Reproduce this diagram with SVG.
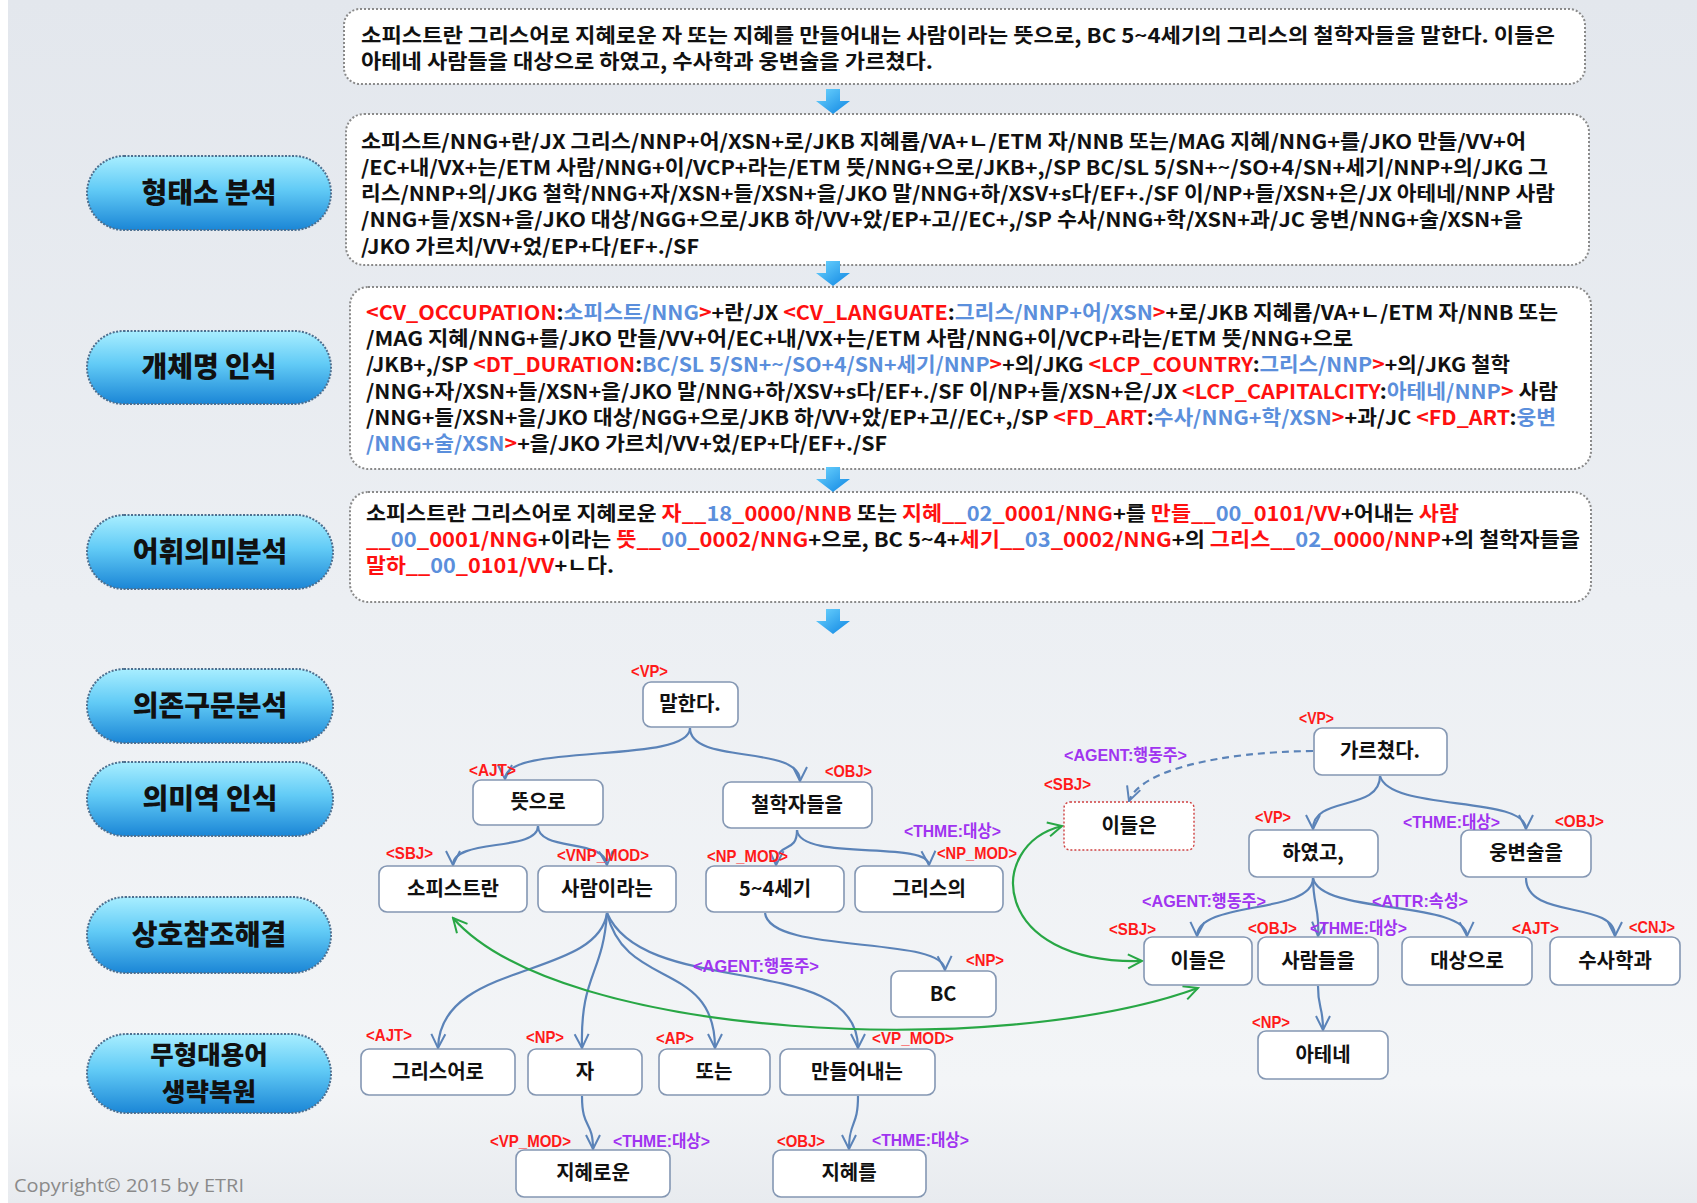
<svg xmlns="http://www.w3.org/2000/svg" width="1697" height="1203" viewBox="0 0 1697 1203">
<defs>
<linearGradient id="bg" x1="0" y1="0" x2="0" y2="1">
<stop offset="0" stop-color="#e3e7ed"/>
<stop offset="0.5" stop-color="#eceff3"/>
<stop offset="0.9" stop-color="#f3f5f7"/>
<stop offset="1" stop-color="#e8ebef"/>
</linearGradient>
<linearGradient id="pg" x1="0" y1="0" x2="0" y2="1">
<stop offset="0" stop-color="#a8eeff"/>
<stop offset="0.45" stop-color="#62cbf6"/>
<stop offset="1" stop-color="#1b86d6"/>
</linearGradient>
<linearGradient id="ag" x1="0" y1="0" x2="1" y2="1">
<stop offset="0" stop-color="#6fd6ff"/>
<stop offset="1" stop-color="#0d84e2"/>
</linearGradient>
<marker id="ab" viewBox="-16 -9 18 18" refX="0" refY="0" markerWidth="18" markerHeight="18" markerUnits="userSpaceOnUse" orient="auto">
<path d="M-14,-7 L0,0 L-14,7" fill="none" stroke="#5b83b8" stroke-width="2"/>
</marker>
<marker id="ag2" viewBox="-16 -9 18 18" refX="0" refY="0" markerWidth="18" markerHeight="18" markerUnits="userSpaceOnUse" orient="auto-start-reverse">
<path d="M-14,-7 L0,0 L-14,7" fill="none" stroke="#28a745" stroke-width="2"/>
</marker>
<path id="darrow" d="M-7,0 H7 V12 H17 L0,25 L-17,12 H-7 Z" fill="url(#ag)"/>
<style>
.bx{fill:#fff;stroke:#8a8a8a;stroke-width:2;stroke-dasharray:2 2}
.t{font-family:"Noto Sans CJK KR","Noto Sans",sans-serif;font-size:20px;fill:#111;font-weight:600}
.r{fill:#ff1010}
.b{fill:#5b8fdc}
.pill{fill:url(#pg);stroke:#4d6f8f;stroke-width:2;stroke-dasharray:2 1.5}
.pt{font-family:"Noto Sans CJK KR",sans-serif;font-size:28px;font-weight:900;fill:#111;text-anchor:middle}
.nd{fill:#fff;stroke:#8497b3;stroke-width:1.6}
.ndd{fill:#fff;stroke:#d04040;stroke-width:1.4;stroke-dasharray:2 2}
.nt{font-family:"Noto Sans CJK KR","Noto Sans",sans-serif;font-size:20px;fill:#111;text-anchor:middle;font-weight:600}
.lr{font-family:"Liberation Sans","Noto Sans CJK KR",sans-serif;font-weight:bold;font-size:17px;fill:#ff1a1a}
.lp{font-family:"Liberation Sans","Noto Sans CJK KR",sans-serif;font-weight:bold;font-size:17px;fill:#a034f0}
.e{fill:none;stroke:#5b83b8;stroke-width:2.2;marker-end:url(#ab)}
.ed{fill:none;stroke:#5b83b8;stroke-width:2.2;stroke-dasharray:7 5;marker-end:url(#ab)}
.g{fill:none;stroke:#28a745;stroke-width:2.2;marker-start:url(#ag2);marker-end:url(#ag2)}
.cp{font-family:"Open Sans","Liberation Sans",sans-serif;font-size:18px;fill:#8a8a8a}
</style>
</defs>
<rect width="1697" height="1203" fill="url(#bg)"/>
<rect width="8" height="1203" fill="#ffffff"/>

<!-- text boxes -->
<g id="sentence">
<rect class="bx" x="344" y="9" width="1241" height="75" rx="16"/>
<text class="t" x="361" y="43" textLength="1194" lengthAdjust="spacingAndGlyphs">소피스트란 그리스어로 지혜로운 자 또는 지혜를 만들어내는 사람이라는 뜻으로, BC 5~4세기의 그리스의 철학자들을 말한다. 이들은</text>
<text class="t" x="361" y="69" textLength="572" lengthAdjust="spacingAndGlyphs">아테네 사람들을 대상으로 하였고, 수사학과 웅변술을 가르쳤다.</text>
</g>
<g id="morph">
<rect class="bx" x="346" y="114" width="1243" height="151" rx="18"/>
<text class="t" x="361" y="149" textLength="1165" lengthAdjust="spacingAndGlyphs">소피스트/NNG+란/JX 그리스/NNP+어/XSN+로/JKB 지혜롭/VA+ㄴ/ETM 자/NNB 또는/MAG 지혜/NNG+를/JKO 만들/VV+어</text>
<text class="t" x="361" y="175" textLength="1187" lengthAdjust="spacingAndGlyphs">/EC+내/VX+는/ETM 사람/NNG+이/VCP+라는/ETM 뜻/NNG+으로/JKB+,/SP BC/SL 5/SN+~/SO+4/SN+세기/NNP+의/JKG 그</text>
<text class="t" x="361" y="201" textLength="1194" lengthAdjust="spacingAndGlyphs">리스/NNP+의/JKG 철학/NNG+자/XSN+들/XSN+을/JKO 말/NNG+하/XSV+s다/EF+./SF 이/NP+들/XSN+은/JX 아테네/NNP 사람</text>
<text class="t" x="361" y="227" textLength="1162" lengthAdjust="spacingAndGlyphs">/NNG+들/XSN+을/JKO 대상/NGG+으로/JKB 하/VV+았/EP+고//EC+,/SP 수사/NNG+학/XSN+과/JC 웅변/NNG+술/XSN+을</text>
<text class="t" x="361" y="254" textLength="338" lengthAdjust="spacingAndGlyphs">/JKO 가르치/VV+었/EP+다/EF+./SF</text>
</g>
<g id="ner">
<rect class="bx" x="350" y="287" width="1241" height="182" rx="18"/>
<text class="t" x="366" y="320" textLength="1192" lengthAdjust="spacingAndGlyphs"><tspan class="r">&lt;CV_OCCUPATION</tspan>:<tspan class="b">소피스트/NNG</tspan><tspan class="r">&gt;</tspan>+란/JX <tspan class="r">&lt;CV_LANGUATE</tspan>:<tspan class="b">그리스/NNP+어/XSN</tspan><tspan class="r">&gt;</tspan>+로/JKB 지혜롭/VA+ㄴ/ETM 자/NNB 또는</text>
<text class="t" x="366" y="346" textLength="987" lengthAdjust="spacingAndGlyphs">/MAG 지혜/NNG+를/JKO 만들/VV+어/EC+내/VX+는/ETM 사람/NNG+이/VCP+라는/ETM 뜻/NNG+으로</text>
<text class="t" x="366" y="372" textLength="1144" lengthAdjust="spacingAndGlyphs">/JKB+,/SP <tspan class="r">&lt;DT_DURATION</tspan>:<tspan class="b">BC/SL 5/SN+~/SO+4/SN+세기/NNP</tspan><tspan class="r">&gt;</tspan>+의/JKG <tspan class="r">&lt;LCP_COUNTRY</tspan>:<tspan class="b">그리스/NNP</tspan><tspan class="r">&gt;</tspan>+의/JKG 철학</text>
<text class="t" x="366" y="399" textLength="1192" lengthAdjust="spacingAndGlyphs">/NNG+자/XSN+들/XSN+을/JKO 말/NNG+하/XSV+s다/EF+./SF 이/NP+들/XSN+은/JX <tspan class="r">&lt;LCP_CAPITALCITY</tspan>:<tspan class="b">아테네/NNP</tspan><tspan class="r">&gt;</tspan> 사람</text>
<text class="t" x="366" y="425" textLength="1190" lengthAdjust="spacingAndGlyphs">/NNG+들/XSN+을/JKO 대상/NGG+으로/JKB 하/VV+았/EP+고//EC+,/SP <tspan class="r">&lt;FD_ART</tspan>:<tspan class="b">수사/NNG+학/XSN</tspan><tspan class="r">&gt;</tspan>+과/JC <tspan class="r">&lt;FD_ART</tspan>:<tspan class="b">웅변</tspan></text>
<text class="t" x="366" y="451" textLength="521" lengthAdjust="spacingAndGlyphs"><tspan class="b">/NNG+술/XSN</tspan><tspan class="r">&gt;</tspan>+을/JKO 가르치/VV+었/EP+다/EF+./SF</text>
</g>
<g id="wsd">
<rect class="bx" x="350" y="492" width="1241" height="110" rx="18"/>
<text class="t" x="366" y="521" textLength="1093" lengthAdjust="spacingAndGlyphs">소피스트란 그리스어로 지혜로운 <tspan class="r">자__</tspan><tspan class="b">18</tspan><tspan class="r">_0000/NNB</tspan> 또는 <tspan class="r">지혜__</tspan><tspan class="b">02</tspan><tspan class="r">_0001/NNG</tspan>+를 <tspan class="r">만들__</tspan><tspan class="b">00</tspan><tspan class="r">_0101/VV</tspan>+어내는 <tspan class="r">사람</tspan></text>
<text class="t" x="366" y="547" textLength="1214" lengthAdjust="spacingAndGlyphs"><tspan class="r">__</tspan><tspan class="b">00</tspan><tspan class="r">_0001/NNG</tspan>+이라는 <tspan class="r">뜻__</tspan><tspan class="b">00</tspan><tspan class="r">_0002/NNG</tspan>+으로, BC 5~4+<tspan class="r">세기__</tspan><tspan class="b">03</tspan><tspan class="r">_0002/NNG</tspan>+의 <tspan class="r">그리스__</tspan><tspan class="b">02</tspan><tspan class="r">_0000/NNP</tspan>+의 철학자들을</text>
<text class="t" x="366" y="573" textLength="248" lengthAdjust="spacingAndGlyphs"><tspan class="r">말하__</tspan><tspan class="b">00</tspan><tspan class="r">_0101/VV</tspan>+ㄴ다.</text>
</g>

<!-- flow arrows -->
<g id="flow">
<use href="#darrow" x="833" y="89"/>
<use href="#darrow" x="833" y="261"/>
<use href="#darrow" x="833" y="467"/>
<use href="#darrow" x="833" y="609"/>
</g>

<!-- stage pills -->
<g id="p1"><rect class="pill" x="87" y="156" width="244" height="74" rx="37"/><text class="pt" x="209" y="203">형태소 분석</text></g>
<g id="p2"><rect class="pill" x="87" y="331" width="244" height="73" rx="36.5"/><text class="pt" x="209" y="377">개체명 인식</text></g>
<g id="p3"><rect class="pill" x="87" y="515" width="246" height="74" rx="37"/><text class="pt" x="210" y="562">어휘의미분석</text></g>
<g id="p4"><rect class="pill" x="87" y="669" width="246" height="74" rx="37"/><text class="pt" x="210" y="716">의존구문분석</text></g>
<g id="p5"><rect class="pill" x="87" y="762" width="246" height="74" rx="37"/><text class="pt" x="210" y="809">의미역 인식</text></g>
<g id="p6"><rect class="pill" x="87" y="897" width="244" height="76" rx="38"/><text class="pt" x="209" y="945">상호참조해결</text></g>
<g id="p7"><rect class="pill" x="87" y="1034" width="244" height="79" rx="39.5"/><text class="pt" x="209" y="1064" style="font-size:25.5px">무형대용어</text><text class="pt" x="209" y="1101" style="font-size:25.5px">생략복원</text></g>

<!-- connectors -->
<g id="connectors">
<path class="e" d="M690,728 C690,765 505,742 505,779"/>
<path class="e" d="M690,728 C690,765 800,744 800,781"/>
<path class="e" d="M538,826 C538,852 453,838 453,865"/>
<path class="e" d="M538,826 C538,852 605,838 607,865"/>
<path class="e" d="M797,830 C797,855 777,840 776,865"/>
<path class="e" d="M797,830 C800,862 928,840 929,865"/>
<path class="e" d="M765,913 C770,955 944,935 945,970"/>
<path class="e" d="M607,913 C597,980 440,960 438,1048"/>
<path class="e" d="M607,913 C603,975 580,975 582,1048"/>
<path class="e" d="M607,913 C625,990 715,960 715,1048"/>
<path class="e" d="M607,913 C645,1000 858,950 858,1048"/>
<path class="e" d="M582,1096 C582,1130 593,1120 593,1149"/>
<path class="e" d="M858,1096 C858,1128 849,1120 849,1149"/>
<path class="e" d="M1380,776 C1380,812 1313,795 1313,829"/>
<path class="e" d="M1380,776 C1390,812 1526,795 1526,829"/>
<path class="ed" d="M1313,751 C1220,752 1140,770 1129,801"/>
<path class="e" d="M1313,878 C1313,915 1198,900 1197,936"/>
<path class="e" d="M1313,878 C1313,905 1320,910 1318,936"/>
<path class="e" d="M1313,878 C1320,915 1466,900 1467,936"/>
<path class="e" d="M1526,878 C1526,920 1615,900 1615,936"/>
<path class="e" d="M1318,986 C1318,1010 1323,1005 1323,1030"/>
<path class="g" d="M453,918 C560,1040 1000,1060 1198,988"/>
<path class="g" d="M1062,826 C985,845 990,965 1142,961"/>
</g>

<!-- left tree nodes -->
<g id="n-malhanda"><rect class="nd" x="643" y="682" width="95" height="45" rx="8"/><text class="nt" x="690" y="711">말한다.</text><text class="lr" x="631" y="677" textLength="37" lengthAdjust="spacingAndGlyphs">&lt;VP&gt;</text></g>
<g id="n-tteuseuro"><rect class="nd" x="473" y="780" width="130" height="45" rx="8"/><text class="nt" x="538" y="809">뜻으로</text><text class="lr" x="469" y="776" textLength="47" lengthAdjust="spacingAndGlyphs">&lt;AJT&gt;</text></g>
<g id="n-cheolhak"><rect class="nd" x="723" y="782" width="149" height="46" rx="8"/><text class="nt" x="797" y="812">철학자들을</text><text class="lr" x="825" y="777" textLength="47" lengthAdjust="spacingAndGlyphs">&lt;OBJ&gt;</text></g>
<g id="n-sophist"><rect class="nd" x="379" y="866" width="148" height="46" rx="8"/><text class="nt" x="453" y="896">소피스트란</text><text class="lr" x="386" y="859" textLength="47" lengthAdjust="spacingAndGlyphs">&lt;SBJ&gt;</text></g>
<g id="n-saram"><rect class="nd" x="538" y="866" width="138" height="46" rx="8"/><text class="nt" x="607" y="896">사람이라는</text><text class="lr" x="557" y="861" textLength="92" lengthAdjust="spacingAndGlyphs">&lt;VNP_MOD&gt;</text></g>
<g id="n-segi"><rect class="nd" x="706" y="866" width="138" height="46" rx="8"/><text class="nt" x="775" y="896">5~4세기</text><text class="lr" x="707" y="862" textLength="81" lengthAdjust="spacingAndGlyphs">&lt;NP_MOD&gt;</text></g>
<g id="n-greeceui"><rect class="nd" x="855" y="866" width="148" height="46" rx="8"/><text class="nt" x="929" y="896">그리스의</text><text class="lp" x="904" y="837" textLength="97" lengthAdjust="spacingAndGlyphs">&lt;THME:대상&gt;</text><text class="lr" x="937" y="859" textLength="80" lengthAdjust="spacingAndGlyphs">&lt;NP_MOD&gt;</text></g>
<g id="n-bc"><rect class="nd" x="891" y="971" width="105" height="46" rx="8"/><text class="nt" x="943" y="1001">BC</text><text class="lr" x="966" y="966" textLength="38" lengthAdjust="spacingAndGlyphs">&lt;NP&gt;</text></g>
<text class="lp" x="693" y="972" textLength="126" lengthAdjust="spacingAndGlyphs">&lt;AGENT:행동주&gt;</text>
<g id="n-greekro"><rect class="nd" x="361" y="1049" width="154" height="46" rx="8"/><text class="nt" x="438" y="1079">그리스어로</text><text class="lr" x="366" y="1041" textLength="46" lengthAdjust="spacingAndGlyphs">&lt;AJT&gt;</text></g>
<g id="n-ja"><rect class="nd" x="528" y="1049" width="114" height="46" rx="8"/><text class="nt" x="585" y="1079">자</text><text class="lr" x="526" y="1043" textLength="38" lengthAdjust="spacingAndGlyphs">&lt;NP&gt;</text></g>
<g id="n-ttoneun"><rect class="nd" x="659" y="1049" width="111" height="46" rx="8"/><text class="nt" x="714" y="1079">또는</text><text class="lr" x="656" y="1044" textLength="38" lengthAdjust="spacingAndGlyphs">&lt;AP&gt;</text></g>
<g id="n-mandeul"><rect class="nd" x="780" y="1049" width="155" height="46" rx="8"/><text class="nt" x="857" y="1079">만들어내는</text><text class="lr" x="872" y="1044" textLength="82" lengthAdjust="spacingAndGlyphs">&lt;VP_MOD&gt;</text></g>
<g id="n-jihyeroun"><rect class="nd" x="516" y="1150" width="154" height="47" rx="8"/><text class="nt" x="593" y="1180">지혜로운</text><text class="lr" x="490" y="1147" textLength="81" lengthAdjust="spacingAndGlyphs">&lt;VP_MOD&gt;</text><text class="lp" x="613" y="1147" textLength="97" lengthAdjust="spacingAndGlyphs">&lt;THME:대상&gt;</text></g>
<g id="n-jihyereul"><rect class="nd" x="773" y="1150" width="153" height="47" rx="8"/><text class="nt" x="849" y="1180">지혜를</text><text class="lr" x="777" y="1147" textLength="48" lengthAdjust="spacingAndGlyphs">&lt;OBJ&gt;</text><text class="lp" x="872" y="1146" textLength="97" lengthAdjust="spacingAndGlyphs">&lt;THME:대상&gt;</text></g>

<!-- right tree nodes -->
<g id="n-gareuchyeotda"><rect class="nd" x="1314" y="728" width="133" height="47" rx="8"/><text class="nt" x="1380" y="758">가르쳤다.</text><text class="lr" x="1299" y="724" textLength="35" lengthAdjust="spacingAndGlyphs">&lt;VP&gt;</text></g>
<g id="n-ideuleun-z"><rect class="ndd" x="1064" y="802" width="130" height="48" rx="6"/><text class="nt" x="1129" y="833">이들은</text><text class="lp" x="1064" y="761" textLength="123" lengthAdjust="spacingAndGlyphs">&lt;AGENT:행동주&gt;</text><text class="lr" x="1044" y="790" textLength="47" lengthAdjust="spacingAndGlyphs">&lt;SBJ&gt;</text></g>
<g id="n-hayeotgo"><rect class="nd" x="1249" y="830" width="129" height="47" rx="8"/><text class="nt" x="1313" y="860">하였고,</text><text class="lr" x="1255" y="823" textLength="36" lengthAdjust="spacingAndGlyphs">&lt;VP&gt;</text></g>
<g id="n-ungbyeon"><rect class="nd" x="1461" y="830" width="130" height="47" rx="8"/><text class="nt" x="1526" y="860">웅변술을</text><text class="lp" x="1403" y="828" textLength="97" lengthAdjust="spacingAndGlyphs">&lt;THME:대상&gt;</text><text class="lr" x="1555" y="827" textLength="49" lengthAdjust="spacingAndGlyphs">&lt;OBJ&gt;</text></g>
<g id="n-ideuleun"><rect class="nd" x="1144" y="937" width="108" height="48" rx="8"/><text class="nt" x="1198" y="968">이들은</text><text class="lp" x="1142" y="907" textLength="124" lengthAdjust="spacingAndGlyphs">&lt;AGENT:행동주&gt;</text><text class="lr" x="1109" y="935" textLength="47" lengthAdjust="spacingAndGlyphs">&lt;SBJ&gt;</text></g>
<g id="n-saramdeul"><rect class="nd" x="1258" y="937" width="120" height="48" rx="8"/><text class="nt" x="1318" y="968">사람들을</text><text class="lr" x="1248" y="934" textLength="49" lengthAdjust="spacingAndGlyphs">&lt;OBJ&gt;</text><text class="lp" x="1310" y="934" textLength="97" lengthAdjust="spacingAndGlyphs">&lt;THME:대상&gt;</text></g>
<g id="n-daesang"><rect class="nd" x="1402" y="937" width="130" height="48" rx="8"/><text class="nt" x="1467" y="968">대상으로</text><text class="lp" x="1372" y="907" textLength="96" lengthAdjust="spacingAndGlyphs">&lt;ATTR:속성&gt;</text><text class="lr" x="1512" y="934" textLength="47" lengthAdjust="spacingAndGlyphs">&lt;AJT&gt;</text></g>
<g id="n-susahak"><rect class="nd" x="1550" y="937" width="130" height="48" rx="8"/><text class="nt" x="1615" y="968">수사학과</text><text class="lr" x="1629" y="933" textLength="46" lengthAdjust="spacingAndGlyphs">&lt;CNJ&gt;</text></g>
<g id="n-athene"><rect class="nd" x="1258" y="1031" width="130" height="48" rx="8"/><text class="nt" x="1323" y="1062">아테네</text><text class="lr" x="1252" y="1028" textLength="38" lengthAdjust="spacingAndGlyphs">&lt;NP&gt;</text></g>

<text class="cp" x="14" y="1192" textLength="230" lengthAdjust="spacingAndGlyphs">Copyright© 2015 by ETRI</text>
</svg>
